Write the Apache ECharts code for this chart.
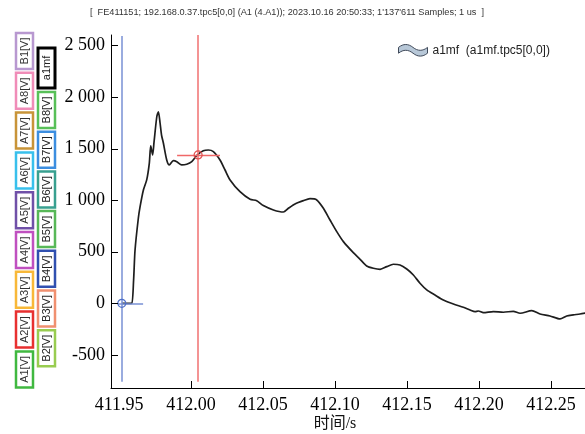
<!DOCTYPE html>
<html><head><meta charset="utf-8">
<script src="https://cdn.jsdelivr.net/npm/echarts@6/dist/echarts.min.js"></script>
<style>html,body{margin:0;padding:0;background:#fff}#c{width:585px;height:434px}</style>
</head><body><div id="c"></div>
<script>
// ---- data ----
const timeS = [411.9519,411.9563,411.9588,411.9601,411.9611,411.9634,411.9646,411.9669,411.9692,411.9710,411.9720,411.9733,411.9743,411.9762,411.9773,411.9785,411.9795,411.9808,411.9831,411.9849,411.9877,411.9901,411.9935,411.9970,412.0005,412.0044,412.0085,412.0120,412.0155,412.0201,412.0236,412.0271,412.0340,412.0410,412.0456,412.0502,412.0572,412.0641,412.0676,412.0722,412.0780,412.0826,412.0873,412.0919,412.0965,412.1012,412.1058,412.1127,412.1174,412.1220,412.1266,412.1313,412.1359,412.1405,412.1451,412.1498,412.1544,412.1590,412.1637,412.1694,412.1752,412.1822,412.1891,412.1938,412.1972,412.1995,412.2030,412.2099,412.2169,412.2238,412.2285,412.2366,412.2424,412.2493,412.2563,412.2609,412.2655,412.2701,412.2743];
const a1mf = [0,0,1,227,517,827,937,1099,1196,1357,1525,1438,1564,1808,1856,1745,1631,1551,1389,1341,1382,1373,1341,1348,1373,1438,1479,1486,1470,1389,1292,1196,1082,1009,995,947,905,885,921,963,995,1014,1002,921,808,695,598,491,427,362,340,330,356,379,372,333,275,195,130,81,33,-6,-38,-64,-80,-74,-90,-80,-86,-77,-96,-71,-103,-122,-151,-122,-112,-103,-93];
const xTicks = [411.95,412.00,412.05,412.10,412.15,412.20,412.25];
const xTickMarks = [412.00,412.05,412.10,412.15,412.20,412.25];
const yTicks = [-500,0,500,1000,1500,2000,2500];
const xRange = [411.9444, 412.2736];
const yRange = [-820, 2600];
const cursorBlue = {x:411.9519, y:0, hFrom:411.9493, hTo:411.9667, yTop:2590, yBottom:-760};
const cursorRed = {x:412.0049, y:1438, hFrom:411.9903, hTo:412.0201, yTop:2600, yBottom:-760};
const colA = ['B1[V]','A8[V]','A7[V]','A6[V]','A5[V]','A4[V]','A3[V]','A2[V]','A1[V]'];
const colAColors = ['#b898d0','#f08cb8','#c89438','#38c0ec','#7050a8','#c050c0','#f8b838','#e83030','#40b840'];
const colB = ['a1mf','B8[V]','B7[V]','B6[V]','B5[V]','B4[V]','B3[V]','B2[V]'];
const colBColors = ['#000000','#58c058','#3c8ee0','#38a090','#58b858','#3050b0','#f09070','#98cc50'];
const titleText = "[  FE411151; 192.168.0.37.tpc5[0,0] (A1 (4.A1)); 2023.10.16 20:50:33; 1'137'611 Samples; 1 us  ]";

const chart = echarts.init(document.getElementById('c'), null, {renderer:'canvas'});
const graphics = [];
colA.forEach((t,i)=>{
  const top = 33 + i*39.8, h = 36;
  graphics.push({type:'rect', shape:{x:16,y:top,width:17,height:h}, style:{fill:'#fff',stroke:colAColors[i],lineWidth:2.5}});
  graphics.push({type:'text', x:24.5, y:top+h/2, rotation:Math.PI/2, style:{text:t, fill:'#333', font:'11px "Liberation Sans", Arial', align:'center', verticalAlign:'middle'}});
});
colB.forEach((t,i)=>{
  const top = i===0 ? 48 : 92 + (i-1)*39.7, h = i===0 ? 40 : 36;
  graphics.push({type:'rect', shape:{x:38,y:top,width:17,height:h}, style:{fill:'#fff',stroke:colBColors[i],lineWidth:i===0?3:2.5}});
  graphics.push({type:'text', x:46.5, y:top+h/2, rotation:Math.PI/2, style:{text:t, fill:'#222', font:'11px "Liberation Sans", Arial', align:'center', verticalAlign:'middle'}});
});
graphics.push({type:'text', x:287, y:12, style:{text:titleText, fill:'#333', font:'9.2px "Liberation Sans", Arial', align:'center', verticalAlign:'middle'}});
graphics.push({type:'text', x:335, y:424, style:{text:'时间/s', fill:'#111', font:'16px "Liberation Serif", "Noto Sans CJK SC"', align:'center', verticalAlign:'middle'}});

const fmtY = v => String(v).replace(/\B(?=(\d{3})+(?!\d))/g,' ');

// tick marks drawn with custom series through the axes' scales
function tickRenderer(isX){
  return function(params, api){
    const v = api.value(isX ? 0 : 1);
    const p = isX ? api.coord([v, yRange[0]]) : api.coord([xRange[0], v]);
    const px = Math.round(p[0]) + 0.5, py = Math.round(p[1]) + 0.5;
    const shape = isX ? {x1:px, y1:p[1], x2:px, y2:p[1]-7} : {x1:p[0], y1:py, x2:p[0]+7, y2:py};
    return {type:'line', shape:shape, style:{stroke:'#000', lineWidth:1}};
  };
}

chart.setOption({
  animation:false,
  backgroundColor:'#fff',
  grid:{left:111, right:0, top:35, bottom:46},
  legend:{
    left:393, top:39, itemWidth:29, itemHeight:12,
    icon:'path://M0,4 C5,0 10,0 15,4 C20,8 25,8 30,4 L30,10 C25,14 20,14 15,10 C10,6 5,6 0,10 Z',
    data:[{name:'a1mf', itemStyle:{color:'#b8c8d8', borderColor:'#404a5a', borderWidth:1}}],
    formatter:()=> 'a1mf  (a1mf.tpc5[0,0])',
    textStyle:{fontFamily:'"Liberation Sans", Arial', fontSize:12, color:'#222', padding:[0,0,0,0]}
  },
  xAxis:{
    type:'value', min:xRange[0], max:xRange[1],
    axisLine:{onZero:false, lineStyle:{color:'#000', width:1}},
    axisTick:{show:false},
    axisLabel:{customValues:xTicks, formatter:v=>v.toFixed(2), margin:8, color:'#000', fontFamily:'"Liberation Serif", "Times New Roman"', fontSize:18},
    splitLine:{show:false}
  },
  yAxis:{
    type:'value', min:yRange[0], max:yRange[1],
    axisLine:{show:true, onZero:false, lineStyle:{color:'#000', width:1}},
    axisTick:{show:false},
    axisLabel:{customValues:yTicks, formatter:fmtY, margin:6, color:'#000', fontFamily:'"Liberation Serif", "Times New Roman"', fontSize:18},
    splitLine:{show:false}
  },
  graphic:graphics,
  series:[
    {name:'a1mf', type:'line', data:timeS.map((t,i)=>[t,a1mf[i]]), showSymbol:false, smooth:0.25,
     lineStyle:{color:'#1e1e1e', width:1.7}, itemStyle:{color:'#1e1e1e'}, z:3},
    {name:'xticks', type:'custom', clip:false, silent:true, z:10,
     data:xTickMarks.map(v=>[v, yRange[0]]), renderItem:tickRenderer(true)},
    {name:'yticks', type:'custom', clip:false, silent:true, z:10,
     data:yTicks.map(v=>[xRange[0], v]), renderItem:tickRenderer(false)},
    {name:'cursors', type:'line', data:[], silent:true,
     markLine:{symbol:'none', silent:true, label:{show:false}, animation:false,
       data:[
         [{coord:[cursorBlue.x,cursorBlue.yTop], lineStyle:{color:'#7890d4',width:1.5,type:'solid'}},{coord:[cursorBlue.x,cursorBlue.yBottom]}],
         [{coord:[cursorBlue.hFrom,cursorBlue.y], lineStyle:{color:'#7890d4',width:1.5,type:'solid'}},{coord:[cursorBlue.hTo,cursorBlue.y]}],
         [{coord:[cursorRed.x,cursorRed.yTop], lineStyle:{color:'#f07070',width:1.5,type:'solid'}},{coord:[cursorRed.x,cursorRed.yBottom]}],
         [{coord:[cursorRed.hFrom,cursorRed.y], lineStyle:{color:'#f06868',width:1.3,type:'solid'}},{coord:[cursorRed.hTo,cursorRed.y]}]
       ]},
     markPoint:{symbol:'circle', symbolSize:8, silent:true, label:{show:false},
       data:[
         {coord:[cursorBlue.x,cursorBlue.y], itemStyle:{color:'rgba(0,0,0,0)', borderColor:'#5070c8', borderWidth:1.2}},
         {coord:[cursorRed.x,cursorRed.y], itemStyle:{color:'rgba(0,0,0,0)', borderColor:'#e05050', borderWidth:1.2}}
       ]},
     z:4}
  ]
});
</script></body></html>
